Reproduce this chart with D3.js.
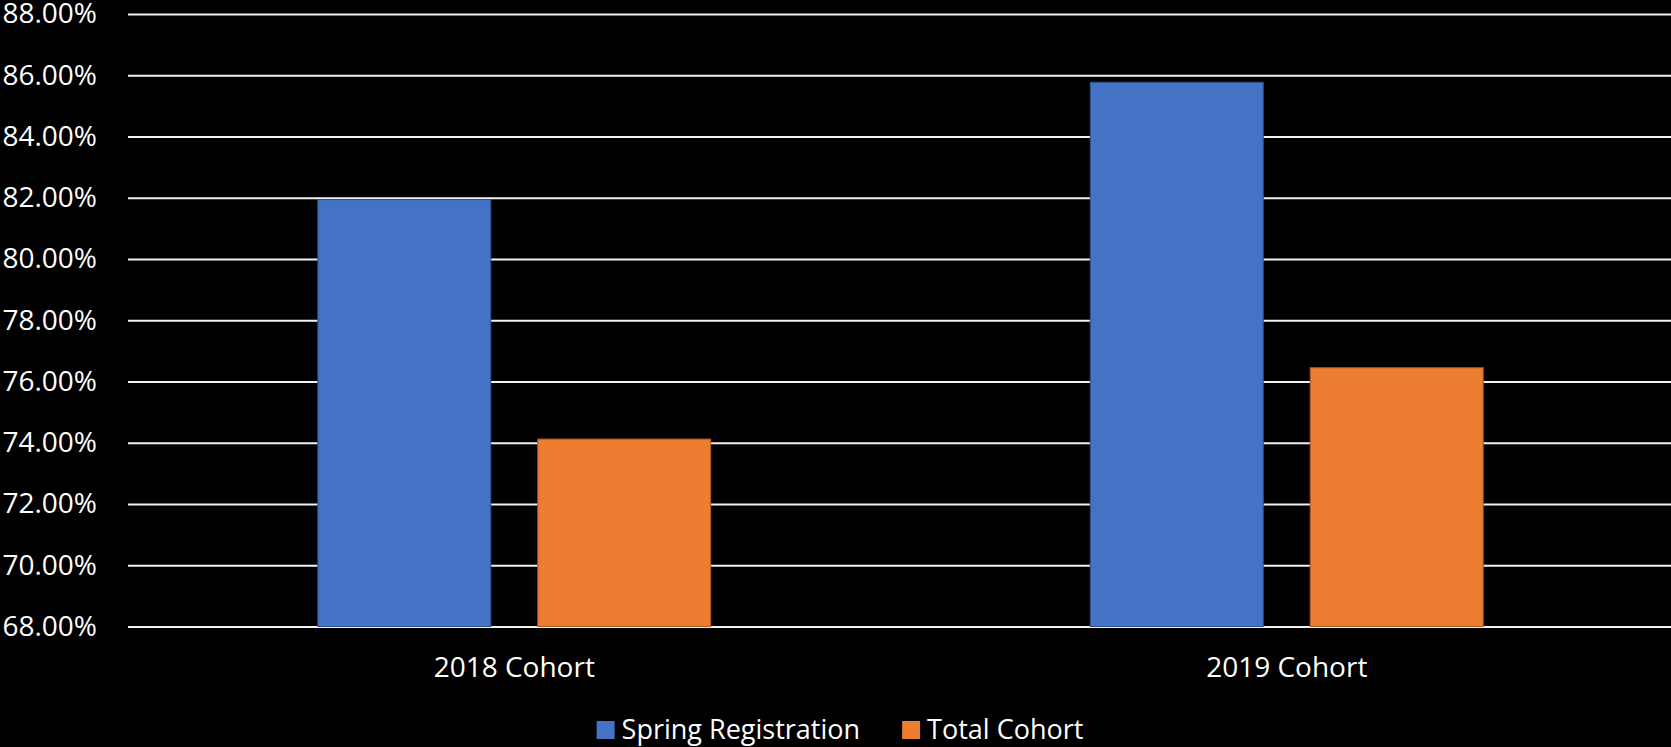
<!DOCTYPE html>
<html>
<head>
<meta charset="utf-8">
<script src="https://cdn.jsdelivr.net/npm/d3@7"></script>
<style>
  body { margin: 0; background: #000; }
  svg { display: block; background: #000; }
  text { font-family: "Open Sans", "Noto Sans", sans-serif; fill: #fff; }
</style>
</head>
<body>
<svg id="chart" width="1671" height="747"></svg>
<script>
// chart values
var categories = ["2018 Cohort", "2019 Cohort"];
var seriesNames = ["Spring Registration", "Total Cohort"];
var springRegistration = [0.8194, 0.8577];
var totalCohort = [0.7412, 0.7645];
var yTicks = [0.68, 0.70, 0.72, 0.74, 0.76, 0.78, 0.80, 0.82, 0.84, 0.86, 0.88];
var colors = ["#4472C4", "#ED7D31"];
var strokes = ["#2F528F", "#AE5A21"];

function cohortChart() {

	var svg = d3.select("#chart"),
		margin = {top: 14, right: -2, bottom: 120.5, left: 128},
		width = +svg.attr("width") - margin.left - margin.right,
		height = +svg.attr("height") - margin.top - margin.bottom;

	var series = [springRegistration, totalCohort];

	// one row per category with a value for every series
	var rows = categories.map(function(c, i) {
		return {
			category: c,
			values: seriesNames.map(function(s, j) { return {name: s, index: j, value: series[j][i]}; })
		};
	});

	var x0 = d3.scaleBand().domain(categories).range([0, width]).padding(0);
	var x1 = d3.scaleBand().domain(seriesNames).range([0, x0.bandwidth()])
		.paddingInner(0.2136).paddingOuter(0.863);
	var y = d3.scaleLinear().domain([0.68, 0.88]).range([height, 0]);

	var g = svg.append("g")
		.attr("transform", "translate(" + margin.left + "," + margin.top + ")");

	// y axis with gridlines running across the plot
	var yAxis = g.append("g")
		.attr("class", "axis axis--y")
		.call(d3.axisLeft(y)
			.tickValues(yTicks)
			.tickFormat(d3.format(".2%"))
			.tickSize(-width)
			.tickPadding(31));
	yAxis.select(".domain").remove();
	yAxis.selectAll("line").attr("stroke", "#f2f2f2").attr("stroke-width", 2);
	yAxis.selectAll("text")
		.style("font-size", "28px")
		.attr("fill", "#fff")
		.attr("font-family", null);

	// bars, grouped by cohort
	var groups = g.selectAll(".cohort")
		.data(rows)
	  .enter().append("g")
		.attr("class", "cohort")
		.attr("transform", function(d) { return "translate(" + x0(d.category) + ",0)"; });

	groups.selectAll("rect")
		.data(function(d) { return d.values; })
	  .enter().append("rect")
		.attr("x", function(d) { return x1(d.name); })
		.attr("y", function(d) { return y(d.value); })
		.attr("width", x1.bandwidth())
		.attr("height", function(d) { return height - y(d.value); })
		.attr("fill", function(d) { return colors[d.index]; })
		.attr("stroke", function(d) { return strokes[d.index]; })
		.attr("stroke-width", 1);

	// category labels under the bars
	var xAxis = g.append("g")
		.attr("class", "axis axis--x")
		.attr("transform", "translate(0," + height + ")")
		.call(d3.axisBottom(x0).tickSize(0).tickPadding(31));
	xAxis.select(".domain").remove();
	xAxis.selectAll("text")
		.style("font-size", "28px")
		.attr("fill", "#fff")
		.attr("font-family", null);

	// legend at the bottom, centred
	var legend = svg.append("g").attr("class", "legend");
	var items = legend.selectAll("g")
		.data(seriesNames)
	  .enter().append("g");

	items.append("rect")
		.attr("width", 18)
		.attr("height", 18)
		.attr("y", 721)
		.attr("fill", function(d, i) { return colors[i]; });

	items.append("text")
		.attr("x", 25)
		.attr("y", 739)
		.style("font-size", "27px")
		.text(function(d) { return d; });

	var offsets = [], total = 0, gap = 42;
	items.each(function(d, i) {
		var w = 25 + this.querySelector("text").getComputedTextLength();
		offsets.push(total);
		total += w + (i < seriesNames.length - 1 ? gap : 0);
	});
	var start = 840 - total / 2;
	items.attr("transform", function(d, i) { return "translate(" + (start + offsets[i]) + ",0)"; });
}

cohortChart();
</script>
</body>
</html>
